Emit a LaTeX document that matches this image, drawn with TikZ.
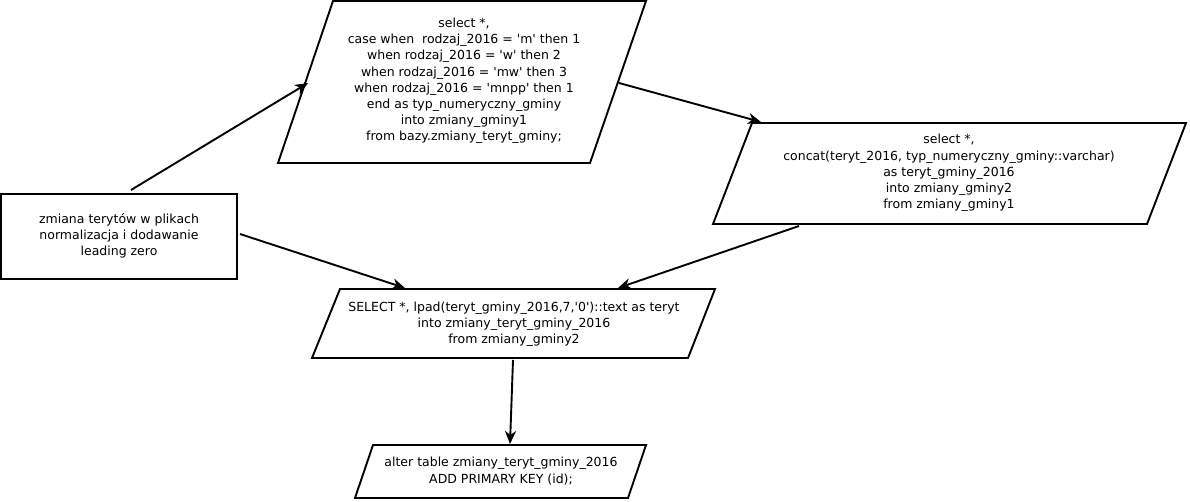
\documentclass[tikz,border=0pt]{standalone}
\usepackage{fontspec}
\setmainfont{DejaVu Sans}[Ligatures=TeXOff]
\usetikzlibrary{arrows.meta}
\begin{document}
\begin{tikzpicture}[x=1pt,y=-1pt,
  shapeline/.style={draw=black,line width=1.9pt,line join=miter},
  txt/.style={align=center,font=\fontsize{12.5}{16.2}\selectfont,inner sep=0pt},
  conn/.style={line width=1.9pt,-{Stealth[length=13pt,width=11pt,inset=4pt]}}]
\useasboundingbox (0,0) rectangle (1190,501);
% shapes
\draw[shapeline] (333,1) -- (646,1) -- (590,163) -- (278,163) -- cycle;
\draw[shapeline] (752,123) -- (1186,123) -- (1147,224) -- (713,224) -- cycle;
\draw[shapeline] (1,194) rectangle (237,279);
\draw[shapeline] (340,289) -- (715,289) -- (688,358) -- (312,358) -- cycle;
\draw[shapeline] (373,445) -- (646,445) -- (628,498) -- (355,498) -- cycle;
% texts
\node[txt] (q1) at (464,81) {select *,\\case when\ \ rodzaj\_2016 = 'm' then 1\\when rodzaj\_2016 = 'w' then 2\\when rodzaj\_2016 = 'mw' then 3\\when rodzaj\_2016 = 'mnpp' then 1\\end as typ\_numeryczny\_gminy\\into zmiany\_gminy1\\from bazy.zmiany\_teryt\_gminy;};
\node[txt] (q2) at (949,173) {select *,\\concat(teryt\_2016, typ\_numeryczny\_gminy::varchar)\\as teryt\_gminy\_2016\\into zmiany\_gminy2\\from zmiany\_gminy1};
\node[txt] (start) at (119,236) {zmiana terytów w plikach\\normalizacja i dodawanie\\leading zero};
\node[txt] (q3) at (514,324) {SELECT *, lpad(teryt\_gminy\_2016,7,'0')::text as teryt\\into zmiany\_teryt\_gminy\_2016\\from zmiany\_gminy2};
\node[txt] (q4) at (501,471) {alter table zmiany\_teryt\_gminy\_2016\\ADD PRIMARY KEY (id);};
% connector endpoints
\coordinate (s1) at (131,190); \coordinate (e1) at (308,83);
\coordinate (s2) at (619,83);  \coordinate (e2) at (761,122);
\coordinate (s3) at (240,234); \coordinate (e3) at (405,288);
\coordinate (s4) at (799,226); \coordinate (e4) at (618,288);
\coordinate (s5) at (513,360); \coordinate (e5) at (510,444);
\draw[conn] (s1) -- (e1);
\draw[conn] (s2) -- (e2);
\draw[conn] (s3) -- (e3);
\draw[conn] (s4) -- (e4);
\draw[conn] (s5) -- (e5);
\end{tikzpicture}
\end{document}
